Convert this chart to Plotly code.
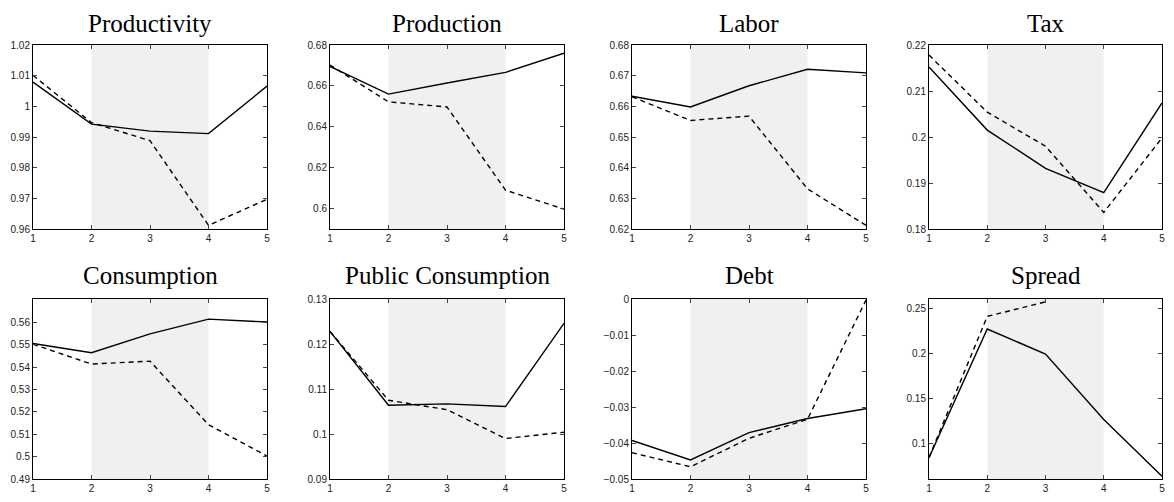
import plotly.graph_objects as go
from plotly.subplots import make_subplots

# periods on the x axis
periods = [1, 2, 3, 4, 5]

# panel titles
titles = ["Productivity", "Production", "Labor", "Tax",
          "Consumption", "Public Consumption", "Debt", "Spread"]

# solid line (first scenario) per panel
productivity_solid = [1.0079, 0.9942, 0.9919, 0.9911, 1.0066]
production_solid = [0.6695, 0.6560, 0.6614, 0.6666, 0.6760]
labor_solid = [0.6633, 0.6598, 0.6667, 0.6721, 0.6709]
tax_solid = [0.2152, 0.2015, 0.1932, 0.1879, 0.2074]
consumption_solid = [0.5506, 0.5465, 0.5549, 0.5615, 0.5602]
public_solid = [0.1228, 0.1064, 0.1067, 0.1061, 0.1246]
debt_solid = [-0.0393, -0.0447, -0.0371, -0.0332, -0.0305]
spread_solid = [0.0837, 0.2275, 0.1995, 0.1265, 0.0630]

# dashed line (second scenario) per panel
productivity_dashed = [1.0101, 0.9947, 0.9888, 0.9612, 0.9697]
production_dashed = [0.6702, 0.6522, 0.6497, 0.6090, 0.5997]
labor_dashed = [0.6631, 0.6554, 0.6568, 0.6331, 0.6212]
tax_dashed = [0.2178, 0.2054, 0.1980, 0.1836, 0.1998]
consumption_dashed = [0.5503, 0.5414, 0.5427, 0.5143, 0.5003]
public_dashed = [0.1228, 0.1075, 0.1054, 0.0990, 0.1004]
debt_dashed = [-0.0427, -0.0466, -0.0387, -0.0334, -0.0003]
spread_dashed = [0.0840, 0.2416, 0.2578, None, None]

solid = [productivity_solid, production_solid, labor_solid, tax_solid,
         consumption_solid, public_solid, debt_solid, spread_solid]
dashed = [productivity_dashed, production_dashed, labor_dashed, tax_dashed,
          consumption_dashed, public_dashed, debt_dashed, spread_dashed]

# y axis ranges and ticks
y_ranges = [[0.96, 1.02], [0.59, 0.68], [0.62, 0.68], [0.18, 0.22],
            [0.49, 0.5705], [0.09, 0.13], [-0.05, 0.0], [0.06, 0.261]]
y_tickvals = [
    [0.96, 0.97, 0.98, 0.99, 1.0, 1.01, 1.02],
    [0.6, 0.62, 0.64, 0.66, 0.68],
    [0.62, 0.63, 0.64, 0.65, 0.66, 0.67, 0.68],
    [0.18, 0.19, 0.2, 0.21, 0.22],
    [0.49, 0.5, 0.51, 0.52, 0.53, 0.54, 0.55, 0.56],
    [0.09, 0.1, 0.11, 0.12, 0.13],
    [-0.05, -0.04, -0.03, -0.02, -0.01, 0.0],
    [0.1, 0.15, 0.2, 0.25],
]
y_ticktext = [
    ["0.96", "0.97", "0.98", "0.99", "1", "1.01", "1.02"],
    ["0.6", "0.62", "0.64", "0.66", "0.68"],
    ["0.62", "0.63", "0.64", "0.65", "0.66", "0.67", "0.68"],
    ["0.18", "0.19", "0.2", "0.21", "0.22"],
    ["0.49", "0.5", "0.51", "0.52", "0.53", "0.54", "0.55", "0.56"],
    ["0.09", "0.1", "0.11", "0.12", "0.13"],
    ["\u22120.05", "\u22120.04", "\u22120.03", "\u22120.02", "\u22120.01", "0"],
    ["0.1", "0.15", "0.2", "0.25"],
]

# shaded window
shade_start, shade_end = 2, 4

# page has an 8px body margin; keep the figure inside the window so no scrollbars
OFF = 8
W, H = 1158, 486
col_px = [(33, 267), (330, 564), (632, 866), (929, 1162)]
row_px = [(45, 229), (299, 479)]
title_px = [24, 275]


def fx(px):
    return (px - OFF) / W


def fy(px):
    return 1 - (px - OFF) / H


fig = make_subplots(rows=2, cols=4)

for i in range(8):
    r, c = i // 4, i % 4
    ax = i + 1
    xa = "xaxis" if ax == 1 else f"xaxis{ax}"
    ya = "yaxis" if ax == 1 else f"yaxis{ax}"
    xref = "x" if ax == 1 else f"x{ax}"
    yref = "y" if ax == 1 else f"y{ax}"

    fig.add_trace(go.Scatter(x=periods, y=solid[i], mode="lines",
                             line=dict(color="black", width=1.4),
                             showlegend=False), row=r + 1, col=c + 1)
    fig.add_trace(go.Scatter(x=periods, y=dashed[i], mode="lines",
                             line=dict(color="black", width=1.4, dash="5px,4px"),
                             showlegend=False), row=r + 1, col=c + 1)

    # shaded period
    fig.add_shape(type="rect", xref=xref, yref=f"{yref} domain",
                  x0=shade_start, x1=shade_end, y0=0, y1=1,
                  fillcolor="#f0f0f0", line_width=0, layer="below")

    x0, x1 = col_px[c]
    y0, y1 = row_px[r]
    fig.layout[xa].update(domain=[fx(x0), fx(x1)], automargin=False)
    fig.layout[ya].update(domain=[fy(y1), fy(y0)], automargin=False)

    fig.layout[xa].update(range=[1, 5], tickvals=periods, ticks="inside",
                          ticklen=4, showline=True, linecolor="black",
                          linewidth=1, mirror="allticks", showgrid=False,
                          zeroline=False, tickfont=dict(size=10))
    fig.layout[ya].update(range=y_ranges[i], tickvals=y_tickvals[i],
                          ticktext=y_ticktext[i], ticks="inside", ticklen=4,
                          showline=True, linecolor="black", linewidth=1,
                          mirror="allticks", showgrid=False, zeroline=False,
                          tickfont=dict(size=10))

    # panel title
    fig.add_annotation(x=fx((x0 + x1) / 2), y=fy(title_px[r]),
                       xref="paper", yref="paper", text=titles[i],
                       showarrow=False, xanchor="center", yanchor="middle",
                       font=dict(family="Liberation Serif", size=25,
                                 color="black"))

fig.update_layout(width=W, height=H,
                  margin=dict(l=0, r=0, t=0, b=0),
                  paper_bgcolor="white", plot_bgcolor="white",
                  font=dict(family="Liberation Sans", size=10, color="#222222"))

fig.write_html("out.html")
